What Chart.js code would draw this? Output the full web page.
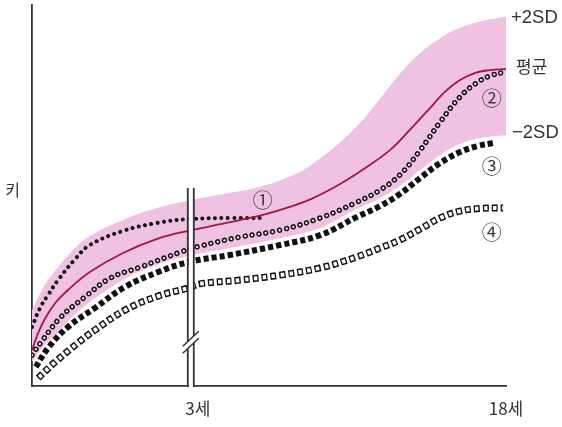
<!DOCTYPE html>
<html>
<head>
<meta charset="utf-8">
<script src="https://cdn.jsdelivr.net/npm/chart.js@4.4.0/dist/chart.umd.min.js"></script>
<style>
  html, body { margin: 0; padding: 0; background: #fff; }
  #wrap { width: 562px; height: 427px; }
</style>
</head>
<body>
<div id="wrap"><canvas id="growth" width="562" height="427"></canvas></div>
<script>
// x: 0 = birth ... 100 = 18 years (axis broken after 3 years), y: relative height 0..100
const sdUpper = [[0,19.9],[2.7,26.5],[5.5,31.2],[9.1,36.2],[12.2,39.4],[19.2,43.6],[26.4,46.7],[32.9,48.6],[41.8,50.7],[48.7,52.5],[56.5,56.2],[60.8,59.8],[65.0,64.0],[69.2,69.0],[73.4,75.3],[77.6,81.9],[81.9,87.4],[86.1,91.3],[90.3,94.0],[95.1,95.8],[100,96.9]];
const sdLower = [[0,6.3],[2.7,10.8],[5.5,14.2],[9.1,18.9],[12.2,22.0],[19.2,27.8],[26.4,31.8],[32.9,34.1],[41.8,36.2],[52.3,38.8],[60.8,41.5],[65.0,44.1],[68.6,46.5],[73.4,49.3],[77.6,52.5],[81.9,56.7],[86.1,60.6],[90.3,63.5],[94.5,65.1],[100,65.9]];
const mean = [[0,9.4],[1.2,13.6],[2.7,17.6],[5.0,21.9],[7.6,25.2],[12.2,29.9],[19.2,34.9],[26.4,38.6],[32.9,40.7],[41.8,43.0],[48.7,44.9],[54.4,47.0],[59.3,49.3],[65.0,53.0],[70.3,57.2],[75.5,61.9],[79.7,67.2],[84.0,73.0],[87.1,77.2],[90.3,80.3],[93.5,82.2],[96.6,82.9],[100,83.2]];
const child1 = [[0,15.5],[1.7,20.5],[3.4,23.9],[5.5,27.8],[9.1,33.3],[12.2,37.0],[19.2,40.7],[26.4,42.8],[32.9,43.8],[41.8,44.1],[48.7,44.1]];
const child2 = [[0,8.1],[1.9,11.5],[6.1,18.1],[11.2,23.4],[16.5,28.3],[22.8,31.2],[31.9,35.4],[35.4,36.7],[43.9,39.1],[52.3,40.9],[60.8,44.1],[68.6,48.3],[73.4,51.4],[77.6,55.4],[81.9,61.9],[86.1,69.3],[90.3,75.9],[93.5,79.3],[96.6,81.4],[99.8,82.4]];
const child3 = [[0.8,5.0],[3.4,10.0],[7.6,15.5],[13.3,20.5],[19.6,26.0],[26.6,29.9],[32.9,32.5],[41.8,34.4],[52.3,37.0],[60.8,39.6],[68.6,44.4],[73.4,47.2],[77.6,50.4],[81.9,54.6],[86.1,58.5],[90.3,61.4],[94.1,63.0],[97.3,63.8]];
const child4 = [[1.3,2.1],[4.9,6.3],[9.7,11.3],[13.3,14.7],[19.6,19.9],[26.6,23.6],[32.9,25.7],[35.4,26.8],[43.9,27.8],[52.3,29.1],[60.8,31.0],[68.6,33.9],[73.4,36.2],[77.6,38.3],[81.9,41.2],[86.1,44.1],[90.3,45.9],[94.5,46.6],[99.4,46.7]];

const ageTicks = [35, 100];
const ageLabels = ['3세', '18세'];
const heightTick = 51.4;
const heightLabel = '키';
const breakAt = 33.5;
const breakTop = 52;
const slashAt = 11.5;

const markLabels = ['①', '②', '③', '④'];
const markPos = [[48.7, 48.8], [97.0, 75.6], [97.0, 57.7], [97.0, 40.4]];

const toPts = a => a.map(([x, y]) => ({x, y}));

function line(data, opts) {
    return Object.assign({
        data: toPts(data),
        pointRadius: 0,
        borderWidth: 0,
        borderColor: 'transparent',
        fill: false,
        tension: 0.4
    }, opts);
}

const datasets = [
    line(mean, {borderColor: '#a3173f', borderWidth: 1.8, order: 1}),
    line(child1, {borderColor: '#111', borderWidth: 4, borderDash: [0.01, 6.4], borderCapStyle: 'round', order: 2}),
    line(child2, {borderColor: '#f7e6f3', borderWidth: 2.4, borderDash: [0.01, 7], borderCapStyle: 'round', order: 3}),
    line(child2, {borderColor: '#111', borderWidth: 5.4, borderDash: [0.01, 7], borderCapStyle: 'round', order: 4}),
    line(child3, {borderColor: '#111', borderWidth: 6, borderDash: [5.2, 3], order: 5}),
    line(child4, {borderColor: '#fff', borderWidth: 4, borderDash: [3.4, 5.6], borderDashOffset: -1.3, order: 6}),
    line(child4, {borderColor: '#111', borderWidth: 7, borderDash: [6, 3], order: 7}),
    line(sdUpper, {fill: '+1', backgroundColor: '#efc1e2', order: 8}),
    line(sdLower, {order: 9})
];

const sideLabels = [
    {text: '+2SD', series: sdUpper, dx: 5, dy: 1},
    {text: '평균', series: mean, dx: 10, dy: -2},
    {text: '−2SD', series: sdLower, dx: 6, dy: -2}
];

const breakPlugin = {
    id: 'axisBreak',
    afterDatasetsDraw(chart) {
        const {ctx, scales: {x, y}} = chart;
        const cx = x.getPixelForValue(breakAt);
        const top = y.getPixelForValue(breakTop);
        const bottom = y.getPixelForValue(0);
        const sy = y.getPixelForValue(slashAt);
        ctx.save();
        ctx.fillStyle = '#fff';
        ctx.fillRect(cx - 2.2, top - 1, 4.4, bottom - top + 4);
        ctx.strokeStyle = '#333';
        ctx.lineWidth = 1.8;
        ctx.beginPath();
        ctx.moveTo(cx - 3, top);
        ctx.lineTo(cx - 3, bottom + 0.9);
        ctx.moveTo(cx + 3, top);
        ctx.lineTo(cx + 3, bottom + 0.9);
        ctx.stroke();
        // gap between the two slashes
        ctx.beginPath();
        ctx.moveTo(cx - 5, sy - 3.5 + 4.7);
        ctx.lineTo(cx + 5, sy - 3.5 - 4.7);
        ctx.lineTo(cx + 5, sy + 3.5 - 4.7);
        ctx.lineTo(cx - 5, sy + 3.5 + 4.7);
        ctx.closePath();
        ctx.fill();
        ctx.lineWidth = 1.5;
        ctx.beginPath();
        [-3.5, 3.5].forEach(o => {
            ctx.moveTo(cx - 8, sy + o + 7.5);
            ctx.lineTo(cx + 8, sy + o - 7.5);
        });
        ctx.stroke();
        ctx.restore();
    }
};

const labelPlugin = {
    id: 'curveLabels',
    afterDraw(chart) {
        const {ctx, scales: {x, y}} = chart;
        ctx.save();
        ctx.fillStyle = '#333';
        ctx.textBaseline = 'middle';
        ctx.textAlign = 'left';
        sideLabels.forEach(l => {
            const last = l.series[l.series.length - 1];
            ctx.font = l.text === '평균' ? '17px "Noto Sans CJK KR"' : '18.5px "Liberation Sans", Arial, sans-serif';
            ctx.fillText(l.text, x.getPixelForValue(last[0]) + l.dx, y.getPixelForValue(last[1]) + l.dy);
        });
        ctx.fillStyle = '#3a3a3a';
        ctx.textAlign = 'center';
        ctx.font = '20px "Noto Sans CJK KR"';
        markLabels.forEach((m, i) => {
            ctx.fillText(m, x.getPixelForValue(markPos[i][0]), y.getPixelForValue(markPos[i][1]));
        });
        ctx.restore();
    }
};

new Chart(document.getElementById('growth').getContext('2d'), {
    type: 'line',
    data: {datasets: datasets},
    plugins: [breakPlugin, labelPlugin],
    options: {
        responsive: false,
        animation: false,
        layout: {padding: {top: 5, right: 56, left: 0, bottom: 0}},
        plugins: {
            legend: {display: false},
            tooltip: {enabled: false},
            filler: {drawTime: 'beforeDatasetsDraw'}
        },
        scales: {
            x: {
                type: 'linear',
                min: 0,
                max: 100,
                grid: {display: false, drawTicks: false},
                border: {display: true, color: '#333', width: 1.8},
                afterBuildTicks: s => { s.ticks = ageTicks.map(v => ({value: v})); },
                afterFit: s => { s.height = 41; s.paddingLeft = 0; s.paddingRight = 0; },
                ticks: {
                    padding: 12,
                    maxRotation: 0,
                    autoSkip: false,
                    color: '#333',
                    font: {family: '"Noto Sans CJK KR"', size: 17},
                    callback: (v, i) => ageLabels[i]
                }
            },
            y: {
                min: 0,
                max: 100,
                grid: {display: false, drawTicks: false},
                border: {display: true, color: '#333', width: 1.8},
                afterBuildTicks: s => { s.ticks = [{value: heightTick}]; },
                afterFit: s => { s.width = 32; s.paddingTop = 0; s.paddingBottom = 0; },
                ticks: {
                    padding: 12,
                    color: '#333',
                    font: {family: '"Noto Sans CJK KR"', size: 16},
                    callback: () => heightLabel
                }
            }
        }
    }
});
</script>
</body>
</html>
